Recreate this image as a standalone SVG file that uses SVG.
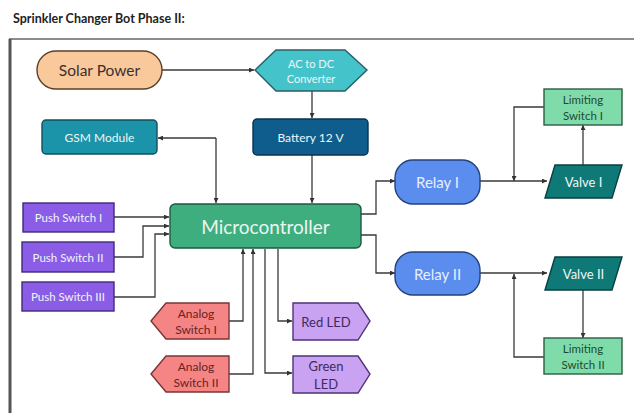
<svg xmlns="http://www.w3.org/2000/svg" width="634" height="413" viewBox="0 0 634 413">
<defs>
<marker id="ah" viewBox="0 0 10 10" refX="10" refY="5" markerWidth="5" markerHeight="5" orient="auto-start-reverse" markerUnits="userSpaceOnUse">
<path d="M0,0 L10,5 L0,10 z" fill="#333"/>
</marker>
<style>
text{font-family:Lato,"Open Sans","Liberation Sans",sans-serif;text-anchor:middle;dominant-baseline:central}
.lt{fill:#eef6f6;font-size:12px}
.c{fill:none;stroke:#3a3a3a;stroke-width:1.3}
.ca{fill:none;stroke:#3a3a3a;stroke-width:1.3;marker-end:url(#ah)}
.n{stroke-width:1.4}
.ps{font-size:11.5px}
.an{font-size:12px;fill:#6a2222}
.ls{font-size:11.5px;fill:#1e4a30}
.led{font-size:13px;fill:#3e2a5e}
</style>
</defs>
<rect width="634" height="413" fill="#ffffff"/>
<text x="13" y="18" style="font-size:12.5px;font-weight:bold;text-anchor:start;fill:#222">Sprinkler Changer Bot Phase II:</text>
<line x1="9" y1="39" x2="634" y2="39" stroke="#666" stroke-width="1.5"/>
<line x1="10" y1="39" x2="10" y2="413" stroke="#555" stroke-width="3"/>

<g id="connectors">
<path class="ca" d="M162,70 H254"/>
<path class="ca" d="M312,91 V118"/>
<path class="ca" d="M312,155 V203"/>
<path class="ca" d="M216,138 H158"/>
<path class="ca" d="M216,138 V203"/>
<path class="ca" d="M114,217 H169"/>
<path class="ca" d="M114,257 H143 V226 H169"/>
<path class="ca" d="M114,297 H155 V234 H169"/>
<path class="ca" d="M229,321 H243 V249"/>
<path class="ca" d="M229,374 H253 V249"/>
<path class="ca" d="M278,249 V321 H292"/>
<path class="ca" d="M265,249 V373 H292"/>
<path class="ca" d="M361,214 H376 V181 H395"/>
<path class="ca" d="M361,235 H376 V273 H395"/>
<path class="ca" d="M480,181 H547"/>
<path class="ca" d="M583,165 V125"/>
<path class="ca" d="M544,107 H514 V181"/>
<path class="ca" d="M480,273 H547"/>
<path class="ca" d="M583,290 V338"/>
<path class="ca" d="M544,357 H514 V274"/>
</g>

<g id="solar">
<rect class="n" x="37" y="51" width="125" height="38" rx="19" fill="#f9c99b" stroke="#5a4028"/>
<text x="99.5" y="70" style="font-size:15.5px;fill:#3a3030">Solar Power</text>
</g>
<g id="acdc">
<polygon class="n" points="255,70 276,50 345,50 367,70 345,91 276,91" fill="#45c3cb" stroke="#2a5f66"/>
<text class="lt" x="311" y="63" style="font-size:11px">AC to DC</text>
<text class="lt" x="311" y="78" style="font-size:11px">Converter</text>
</g>
<g id="battery">
<rect class="n" x="253" y="119" width="115" height="36" rx="4" fill="#0e5d8c" stroke="#0a3350"/>
<text class="lt" x="310.5" y="137">Battery 12 V</text>
</g>
<g id="gsm">
<rect class="n" x="42" y="120" width="115" height="34" rx="4" fill="#1b93a8" stroke="#0f5060"/>
<text class="lt" x="99.5" y="137">GSM Module</text>
</g>
<g id="micro">
<rect class="n" x="170" y="204" width="191" height="44" rx="5" fill="#3fae7f" stroke="#1c5a3e"/>
<text x="265.5" y="226" style="font-size:19px;fill:#eaf6f0">Microcontroller</text>
</g>
<g id="push1">
<rect class="n" x="23" y="203" width="91" height="29" fill="#8b5ce6" stroke="#3f2a7a"/>
<text class="lt ps" x="68.5" y="217.5">Push Switch I</text>
</g>
<g id="push2">
<rect class="n" x="22" y="242" width="92" height="30" fill="#8b5ce6" stroke="#3f2a7a"/>
<text class="lt ps" x="68" y="257">Push Switch II</text>
</g>
<g id="push3">
<rect class="n" x="22" y="282" width="92" height="29" fill="#8b5ce6" stroke="#3f2a7a"/>
<text class="lt ps" x="68" y="296.5">Push Switch III</text>
</g>
<g id="analog1">
<polygon class="n" points="151,321 166,303 229,303 229,339 166,339" fill="#f58584" stroke="#7a3434"/>
<text class="an" x="196" y="313">Analog</text>
<text class="an" x="196" y="329">Switch I</text>
</g>
<g id="analog2">
<polygon class="n" points="151,374 166,356 229,356 229,392 166,392" fill="#f58584" stroke="#7a3434"/>
<text class="an" x="196" y="366">Analog</text>
<text class="an" x="196" y="382">Switch II</text>
</g>
<g id="redled">
<polygon class="n" points="293,303 358,303 370,321 358,340 293,340" fill="#c9a2f2" stroke="#4e3478"/>
<text class="led" x="326" y="321.5">Red LED</text>
</g>
<g id="greenled">
<polygon class="n" points="293,356 358,356 370,374 358,393 293,393" fill="#c9a2f2" stroke="#4e3478"/>
<text class="led" x="326" y="366">Green</text>
<text class="led" x="326" y="384">LED</text>
</g>
<g id="relay1">
<rect class="n" x="395" y="160" width="85" height="44" rx="18" fill="#5b8def" stroke="#24427a"/>
<text x="437.5" y="182" style="font-size:15px;fill:#e8efff">Relay I</text>
</g>
<g id="relay2">
<rect class="n" x="395" y="252" width="85" height="43" rx="18" fill="#5b8def" stroke="#24427a"/>
<text x="437.5" y="273.5" style="font-size:15px;fill:#e8efff">Relay II</text>
</g>
<g id="valve1">
<polygon class="n" points="555,165 622,165 612,198 545,198" fill="#0f7977" stroke="#084040"/>
<text class="lt" x="583.5" y="181.5" style="font-size:13px">Valve I</text>
</g>
<g id="valve2">
<polygon class="n" points="555,257 622,257 612,290 545,290" fill="#0f7977" stroke="#084040"/>
<text class="lt" x="583.5" y="273.5" style="font-size:13px">Valve II</text>
</g>
<g id="limit1">
<rect class="n" x="544" y="89" width="78" height="36" fill="#80dbaa" stroke="#2c5e42"/>
<text class="ls" x="583" y="99">Limiting</text>
<text class="ls" x="583" y="115">Switch I</text>
</g>
<g id="limit2">
<rect class="n" x="544" y="338" width="78" height="36" fill="#80dbaa" stroke="#2c5e42"/>
<text class="ls" x="583" y="348">Limiting</text>
<text class="ls" x="583" y="364">Switch II</text>
</g>
</svg>
